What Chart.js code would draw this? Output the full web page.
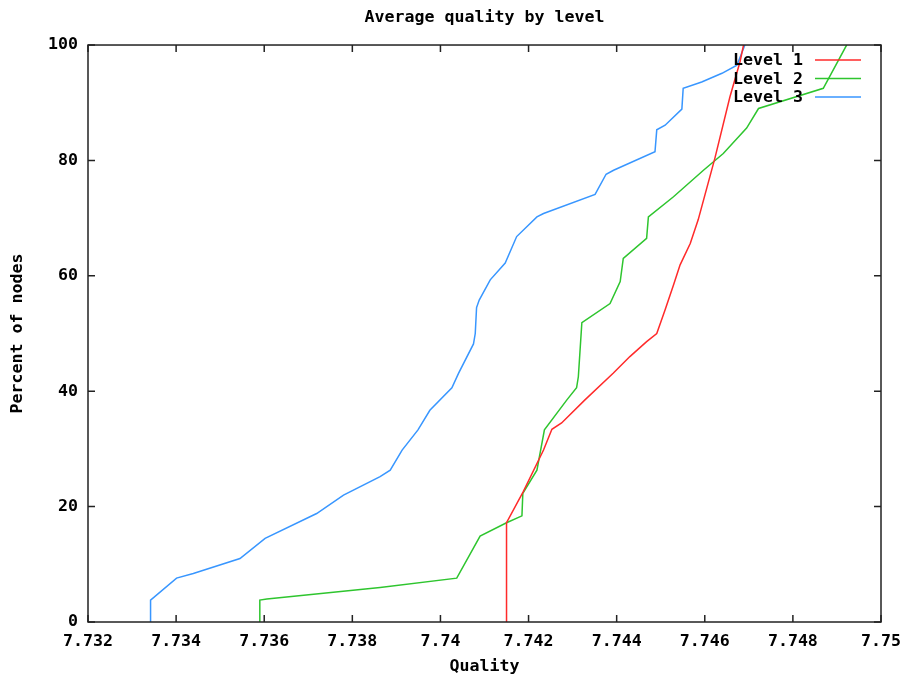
<!DOCTYPE html>
<html>
<head>
<meta charset="utf-8">
<title>Average quality by level</title>
<script src="https://cdn.jsdelivr.net/npm/chart.js@4.4.1/dist/chart.umd.min.js"></script>
<style>
  html, body { margin: 0; padding: 0; background: #fff; }
  #wrap { width: 904px; height: 680px; position: relative; }
</style>
</head>
<body>
<div id="wrap"><canvas id="myChart"></canvas></div>
<script>
// values
var seriesNames = ["Level 1", "Level 2", "Level 3"];
var seriesColors = ["#ff2a2a", "#2ec52e", "#3896ff"];

var level1Quality = [7.74150, 7.74150, 7.74188, 7.74234, 7.74253, 7.74275, 7.74328, 7.74392, 7.74430, 7.74468,
  7.74491, 7.74510, 7.74529, 7.74544, 7.74567, 7.74585, 7.74623, 7.74657, 7.74680, 7.74688];
var level1Percent = [0, 17.2, 22.6, 29.8, 33.4, 34.5, 38.5, 43.1, 46.0, 48.6,
  50.0, 54.1, 58.4, 61.9, 65.6, 69.7, 80.4, 91.0, 97.1, 100];

var level2Quality = [7.73590, 7.73590, 7.73606, 7.73863, 7.74037, 7.74090, 7.74150, 7.74185, 7.74187, 7.74219,
  7.74236, 7.74287, 7.74309, 7.74313, 7.74321, 7.74385, 7.74408, 7.74415, 7.74468, 7.74472,
  7.74529, 7.74597, 7.74642, 7.74695, 7.74722, 7.74869, 7.74922];
var level2Percent = [0, 3.8, 4.0, 6.0, 7.6, 14.9, 17.2, 18.4, 22.3, 26.3,
  33.3, 38.5, 40.6, 42.5, 51.9, 55.2, 59.0, 63.0, 66.5, 70.2,
  73.7, 78.3, 81.2, 85.6, 89.0, 92.5, 100];

var level3Quality = [7.73342, 7.73342, 7.73401, 7.73439, 7.73545, 7.73602, 7.73719, 7.73780, 7.73863, 7.73886,
  7.73913, 7.73949, 7.73976, 7.74026, 7.74041, 7.74075, 7.74079, 7.74082, 7.74088, 7.74113,
  7.74147, 7.74173, 7.74219, 7.74234, 7.74351, 7.74376, 7.74393, 7.74487, 7.74491, 7.74510,
  7.74548, 7.74551, 7.74593, 7.74639, 7.74673, 7.74691];
var level3Percent = [0, 3.8, 7.6, 8.4, 11.0, 14.5, 18.8, 22.0, 25.2, 26.3,
  29.8, 33.3, 36.7, 40.6, 43.1, 48.2, 50.0, 54.5, 55.8, 59.3,
  62.2, 66.8, 70.2, 70.8, 74.1, 77.6, 78.3, 81.5, 85.3, 86.1,
  88.9, 92.5, 93.6, 95.1, 96.5, 100];

var xTicks = [7.732, 7.734, 7.736, 7.738, 7.74, 7.742, 7.744, 7.746, 7.748, 7.75];
var yTicks = [0, 20, 40, 60, 80, 100];

var FONT = "'DejaVu Sans Mono', monospace";
var FSIZE = 16.6;

function pts(xs, ys) {
  var out = [];
  for (var i = 0; i < xs.length; i++) out.push({ x: xs[i], y: ys[i] });
  return out;
}
function trim(v) {
  return String(parseFloat(v.toFixed(3)));
}

// gnuplot style box with inward ticks on all four sides, plus legend inside
var framePlugin = {
  id: "frame",
  afterDraw: function (chart) {
    var ctx = chart.ctx, a = chart.chartArea;
    var xs = chart.scales.x, ys = chart.scales.y;
    ctx.save();
    ctx.strokeStyle = "#222";
    ctx.lineWidth = 1.5;
    ctx.strokeRect(a.left, a.top, a.right - a.left, a.bottom - a.top);
    ctx.beginPath();
    xTicks.forEach(function (v) {
      var px = xs.getPixelForValue(v);
      ctx.moveTo(px, a.bottom); ctx.lineTo(px, a.bottom - 7);
      ctx.moveTo(px, a.top); ctx.lineTo(px, a.top + 7);
    });
    yTicks.forEach(function (v) {
      var py = ys.getPixelForValue(v);
      ctx.moveTo(a.left, py); ctx.lineTo(a.left + 7, py);
      ctx.moveTo(a.right, py); ctx.lineTo(a.right - 7, py);
    });
    ctx.stroke();

    // legend
    ctx.font = "bold " + FSIZE + "px " + FONT;
    ctx.textAlign = "right";
    ctx.textBaseline = "middle";
    for (var i = 0; i < seriesNames.length; i++) {
      var y = a.top + 15 + i * 18.5;
      ctx.fillStyle = "#000";
      ctx.fillText(seriesNames[i], a.right - 78, y + 1);
      ctx.strokeStyle = seriesColors[i];
      ctx.lineWidth = 1.5;
      ctx.beginPath();
      ctx.moveTo(a.right - 66, y);
      ctx.lineTo(a.right - 20, y);
      ctx.stroke();
    }
    ctx.restore();
  }
};

var data = {
  datasets: [
    { label: seriesNames[0], data: pts(level1Quality, level1Percent), borderColor: seriesColors[0] },
    { label: seriesNames[1], data: pts(level2Quality, level2Percent), borderColor: seriesColors[1] },
    { label: seriesNames[2], data: pts(level3Quality, level3Percent), borderColor: seriesColors[2] }
  ]
};
data.datasets.forEach(function (d) {
  d.borderWidth = 1.5;
  d.pointRadius = 0;
  d.tension = 0;
  d.fill = false;
});

var ctx = document.getElementById("myChart");
new Chart(ctx, {
  type: "line",
  data: data,
  plugins: [framePlugin],
  options: {
    responsive: true,
    maintainAspectRatio: false,
    animation: false,
    layout: { padding: { left: 0, right: 23, top: 0, bottom: 0 } },
    plugins: {
      legend: { display: false },
      tooltip: { enabled: false },
      title: {
        display: true,
        text: "Average quality by level",
        color: "#000",
        fullSize: false,
        font: { family: FONT, size: FSIZE, weight: "bold" },
        padding: { top: 8, bottom: 17.1 }
      }
    },
    scales: {
      x: {
        type: "linear",
        min: 7.732,
        max: 7.75,
        grid: { display: false, drawTicks: false },
        border: { display: false },
        afterBuildTicks: function (s) {
          s.ticks = xTicks.map(function (v) { return { value: v }; });
        },
        afterFit: function (s) {
          s.height = 58;
          s.paddingLeft = 0;
          s.paddingRight = 0;
        },
        ticks: {
          autoSkip: false,
          maxRotation: 0,
          padding: 10,
          color: "#000",
          font: { family: FONT, size: FSIZE, weight: "bold" },
          callback: function (v) { return trim(v); }
        },
        title: {
          display: true,
          text: "Quality",
          color: "#000",
          font: { family: FONT, size: FSIZE, weight: "bold" },
          padding: { top: 0, bottom: 3 }
        }
      },
      y: {
        min: 0,
        max: 100,
        grid: { display: false, drawTicks: false },
        border: { display: false },
        afterBuildTicks: function (s) {
          s.ticks = yTicks.map(function (v) { return { value: v }; });
        },
        afterFit: function (s) {
          s.width = 88;
          s.paddingTop = 0;
          s.paddingBottom = 0;
        },
        ticks: {
          padding: 10,
          color: "#000",
          font: { family: FONT, size: FSIZE, weight: "bold" }
        },
        title: {
          display: true,
          text: "Percent of nodes",
          color: "#000",
          font: { family: FONT, size: FSIZE, weight: "bold" },
          padding: { top: 8, bottom: 0 }
        }
      }
    }
  }
});
</script>
</body>
</html>
